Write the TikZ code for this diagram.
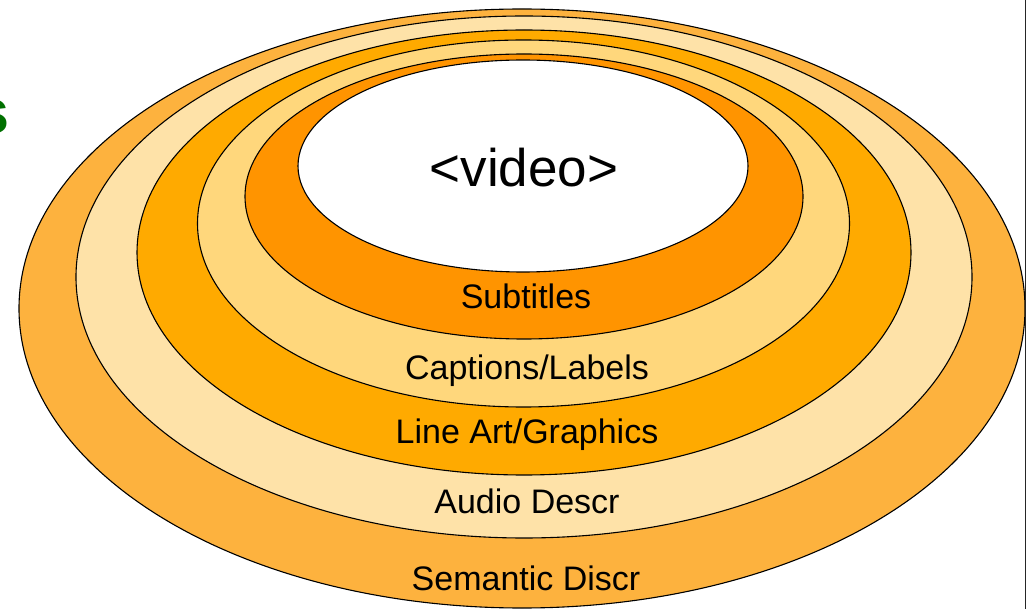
\documentclass[tikz,border=0pt]{standalone}
\usepackage{fontspec}
\setmainfont{Liberation Sans}
\definecolor{cA}{RGB}{253,178,62}
\definecolor{cB}{RGB}{254,226,168}
\definecolor{cC}{RGB}{255,170,0}
\definecolor{cD}{RGB}{255,215,124}
\definecolor{cE}{RGB}{255,148,0}
\definecolor{titlegreen}{RGB}{0,112,0}
\begin{document}
\begin{tikzpicture}[x=1pt,y=-1pt,
  ring/.style={draw=black, line width=1.1pt},
  lbl/.style={anchor=base, font=\fontsize{34}{40}\selectfont, inner sep=0pt}]
\useasboundingbox (0,0) rectangle (1033,609);
\fill[white] (0,0) rectangle (1033,609);
\node[anchor=base west, inner sep=0pt, text=titlegreen, font=\fontsize{63}{70}\selectfont\bfseries] (ttl) at (-26,134) {s};
\filldraw[ring, fill=cA] (522,308.5) ellipse [x radius=503, y radius=299.5];
\filldraw[ring, fill=cB] (524,277) ellipse [x radius=448, y radius=261];
\filldraw[ring, fill=cC] (524,252.5) ellipse [x radius=387, y radius=222.5];
\filldraw[ring, fill=cD] (523.5,223.5) ellipse [x radius=326, y radius=183.5];
\filldraw[ring, fill=cE] (524,196.5) ellipse [x radius=279, y radius=142.5];
\filldraw[ring, fill=white] (523,166) ellipse [x radius=225, y radius=106];
\node[anchor=base, inner sep=0pt, font=\fontsize{53}{60}\selectfont] (vid) at (524,187) {<video>};
\node[lbl] (sub) at (526,309) {Subtitles};
\node[lbl] (cap) at (527,380) {Captions/Labels};
\node[lbl] (art) at (527,443) {Line Art/Graphics};
\node[lbl] (aud) at (527,513) {Audio Descr};
\node[lbl] (sem) at (526,590) {Semantic Discr};
\draw[line width=1.2pt, black!85] (1025.5,0) -- (1025.5,609);
\end{tikzpicture}
\end{document}
